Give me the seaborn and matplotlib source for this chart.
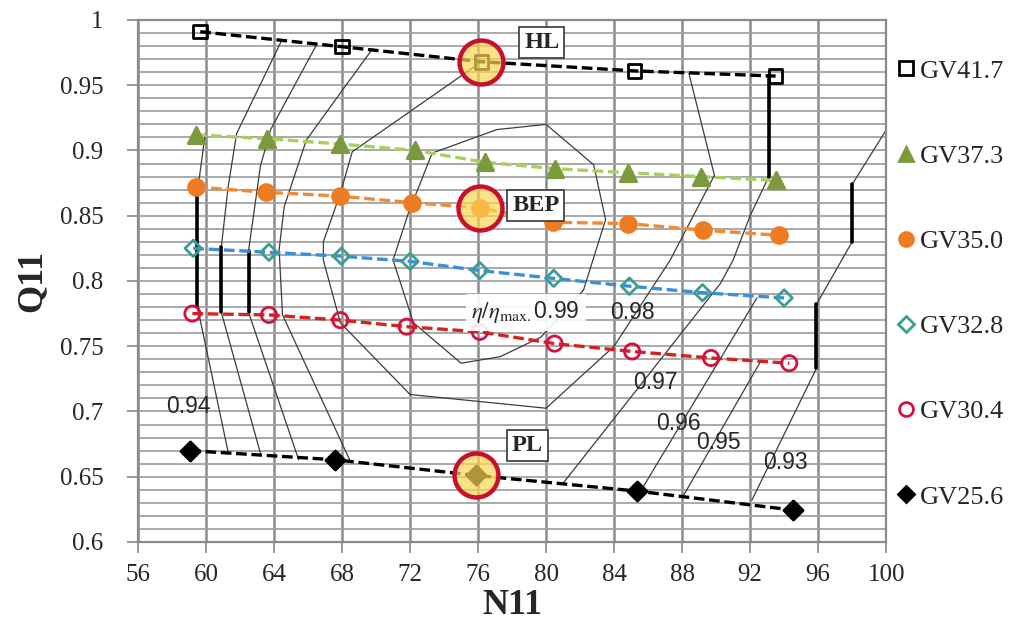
import matplotlib.pyplot as plt
import seaborn as sns
from matplotlib.lines import Line2D
from matplotlib.ticker import MultipleLocator, FuncFormatter

sns.set_theme(style="white")
plt.rcParams['font.family'] = ['Liberation Serif', 'DejaVu Serif']
plt.rcParams['mathtext.fontset'] = 'stix'

# guide vane series (N11, Q11)
gv_names = ["GV41.7", "GV37.3", "GV35.0", "GV32.8", "GV30.4", "GV25.6"]
n11_gv417 = [59.66, 68.0, 76.2, 85.2, 93.5]
q11_gv417 = [0.991, 0.9795, 0.968, 0.961, 0.957]
n11_gv373 = [59.4, 63.6, 67.9, 72.3, 76.4, 80.55, 84.8, 89.1, 93.5]
q11_gv373 = [0.912, 0.909, 0.905, 0.900, 0.891, 0.886, 0.883, 0.880, 0.877]
n11_gv350 = [59.4, 63.5, 67.9, 72.1, 76.1, 80.4, 84.8, 89.2, 93.7]
q11_gv350 = [0.872, 0.868, 0.865, 0.860, 0.856, 0.845, 0.844, 0.839, 0.835]
n11_gv328 = [59.25, 63.7, 67.96, 72.0, 76.1, 80.45, 84.9, 89.2, 94.0]
q11_gv328 = [0.825, 0.822, 0.819, 0.815, 0.808, 0.802, 0.796, 0.791, 0.787]
n11_gv304 = [59.2, 63.7, 67.9, 71.8, 76.1, 80.5, 85.06, 89.7, 94.3]
q11_gv304 = [0.775, 0.774, 0.770, 0.765, 0.761, 0.752, 0.746, 0.741, 0.737]
n11_gv256 = [59.07, 67.6, 75.9, 85.35, 94.5]
q11_gv256 = [0.670, 0.663, 0.651, 0.639, 0.6245]

# operating points HL / BEP / PL
op_names = ["HL", "BEP", "PL"]
op_n11 = [76.2, 76.1, 75.9]
op_q11 = [0.968, 0.856, 0.651]

# efficiency contours eta/eta_max
c99_n = [71.0, 71.9, 73.3, 77.1, 80.0, 82.8, 83.5, 82.2, 79.7, 77.3, 75.0, 72.2, 71.0]
c99_q = [0.816, 0.852, 0.898, 0.916, 0.920, 0.889, 0.847, 0.793, 0.757, 0.742, 0.737, 0.768, 0.816]
c98_n = [76.2, 68.6, 67.9, 66.9, 66.9, 67.9, 72.0, 80.0, 84.0, 87.3, 89.9, 88.4]
c98_q = [0.968, 0.899, 0.867, 0.830, 0.816, 0.768, 0.713, 0.7025, 0.750, 0.816, 0.881, 0.959]
c97l_n = [69.8, 67.9, 65.9, 64.6, 64.3, 64.5, 68.5]
c97l_q = [0.978, 0.944, 0.908, 0.857, 0.824, 0.774, 0.6615]
c97r_n = [81.0, 90.25, 91.0, 92.0, 93.1, 93.1]
c97r_q = [0.645, 0.798, 0.816, 0.850, 0.880, 0.957]
c96l_n = [66.5, 63.8, 63.2, 62.5, 62.5, 65.45]
c96l_q = [0.981, 0.916, 0.888, 0.823, 0.776, 0.663]
c96r_n = [85.7, 92.4]
c96r_q = [0.642, 0.787]
c95l_n = [64.4, 61.8, 61.3, 60.9, 60.9, 63.2]
c95l_q = [0.983, 0.913, 0.872, 0.826, 0.776, 0.668]
c95r_n = [88.1, 92.6]
c95r_q = [0.636, 0.738]
c94_n = [59.96, 59.47, 59.47, 59.66, 61.3]
c94_q = [0.913, 0.866, 0.780, 0.770, 0.669]
c93_n = [92.1, 95.9, 95.9, 98.0, 98.0, 100.4]
c93_q = [0.632, 0.733, 0.782, 0.830, 0.874, 0.924]

# vertical limit segments drawn heavier
thick_n = [[59.47, 59.47], [60.9, 60.9], [62.5, 62.5], [93.1, 93.1], [98.0, 98.0], [95.9, 95.9]]
thick_q = [[0.866, 0.780], [0.826, 0.776], [0.823, 0.776], [0.957, 0.880], [0.874, 0.830], [0.782, 0.733]]

# contour labels
lab_text = ["0.94", "0.98", "0.97", "0.96", "0.95", "0.93"]
lab_n = [58.95, 85.1, 86.4, 87.8, 90.15, 94.1]
lab_q = [0.704, 0.776, 0.722, 0.691, 0.676, 0.661]

fig = plt.figure(figsize=(10.11, 6.3), dpi=100)
ax = fig.add_axes([0.1365, 0.1397, 0.740, 0.8286])

ax.set_xlim(56, 100)
ax.set_ylim(0.6, 1.0)
ax.xaxis.set_major_locator(MultipleLocator(4))
ax.yaxis.set_major_locator(MultipleLocator(0.05))
ax.yaxis.set_minor_locator(MultipleLocator(0.01))
ax.grid(axis='x', which='major', color='#8a8a8a', lw=1.8)
ax.grid(axis='y', which='both', color='#a3a3a3', lw=1.3)
ax.set_axisbelow(True)
for s in ax.spines.values():
    s.set_color('#8a8a8a')
    s.set_linewidth(1.6)
ax.yaxis.set_major_formatter(FuncFormatter(lambda v, p: "%g" % round(v, 2)))
ax.tick_params(axis='both', which='major', labelsize=18, length=8, color='#8a8a8a',
               direction='out', left=True, bottom=True)
ax.tick_params(axis='y', which='major', pad=17)
ax.tick_params(axis='x', which='major', pad=8)
ax.tick_params(axis='y', which='minor', length=0)

# contours
contours = [(c99_n, c99_q), (c98_n, c98_q), (c97l_n, c97l_q), (c97r_n, c97r_q),
            (c96l_n, c96l_q), (c96r_n, c96r_q), (c95l_n, c95l_q), (c95r_n, c95r_q),
            (c94_n, c94_q), (c93_n, c93_q)]
for cn, cq in contours:
    sns.lineplot(x=cn, y=cq, ax=ax, sort=False, estimator=None, color='#3c3c3c', lw=0.9, zorder=2)
for tn, tq in zip(thick_n, thick_q):
    sns.lineplot(x=tn, y=tq, ax=ax, sort=False, estimator=None, color='black', lw=2.6, zorder=2)

for t, xn, yq in zip(lab_text, lab_n, lab_q):
    ax.text(xn, yq, t, family='Liberation Sans', fontsize=16.5, ha='center', va='center', zorder=6)

ax.text(78.8, 0.776, r'$\eta/\eta_{\mathrm{max.}}$' + '0.99', family='Liberation Sans',
        fontsize=16.5, ha='center', va='center', zorder=6,
        bbox=dict(boxstyle='square,pad=0.25', fc='white', ec='none', alpha=0.9))

# series: dashed line colour, marker, face, edge, size
series = [
    (n11_gv417, q11_gv417, 'black', 's', 'none', 'black', 95),
    (n11_gv373, q11_gv373, '#a9cf5e', '^', '#7b9a3d', '#7b9a3d', 140),
    (n11_gv350, q11_gv350, '#f28a35', 'o', '#ee7b21', '#ee7b21', 130),
    (n11_gv328, q11_gv328, '#3a8fdc', 'D', 'none', '#3a9e96', 70),
    (n11_gv304, q11_gv304, '#d42222', 'o', 'none', '#d41240', 120),
    (n11_gv256, q11_gv256, 'black', 'D', 'black', 'black', 95),
]
for xs, ys, lc, mk, fc, ec, sz in series:
    sns.lineplot(x=xs, y=ys, ax=ax, sort=False, estimator=None, color=lc, lw=2.4,
                 linestyle=(0, (3.2, 1.4)), zorder=3)
    sns.scatterplot(x=xs, y=ys, ax=ax, marker=mk, s=sz, facecolor=fc, edgecolor=ec,
                    linewidth=2, zorder=4)

# HL / BEP / PL highlight circles
sns.scatterplot(x=op_n11, y=op_q11, ax=ax, s=1000, marker='o', facecolor=(0.98, 0.84, 0.33, 0.7),
                edgecolor='#c8102e', linewidth=3.2, zorder=5)
box_n = [79.75, 79.4, 78.9]
box_q = [0.983, 0.858, 0.674]
for t, xn, yq in zip(op_names, box_n, box_q):
    ax.text(xn, yq, t, fontsize=17.5, fontweight='bold', ha='center', va='center', zorder=7,
            bbox=dict(boxstyle='square,pad=0.2', fc='white', ec='#444444', lw=1.3))

ax.set_xlabel('N11', fontsize=26, fontweight='bold', labelpad=2)
ax.set_ylabel('Q11', fontsize=26, fontweight='bold', labelpad=8)

handles = []
for xs, ys, lc, mk, fc, ec, sz in series:
    handles.append(Line2D([], [], linestyle='none', marker=mk, markersize=10 if mk != 'D' else 8,
                          markerfacecolor=fc, markeredgecolor=ec, markeredgewidth=2))
ax.legend(handles, gv_names, loc='upper left', bbox_to_anchor=(1.012, 0.925), frameon=False,
          fontsize=19, labelspacing=2.34, handlelength=0.8, handletextpad=0.15,
          borderpad=0, borderaxespad=0)

fig.savefig('out.png', dpi=100)
